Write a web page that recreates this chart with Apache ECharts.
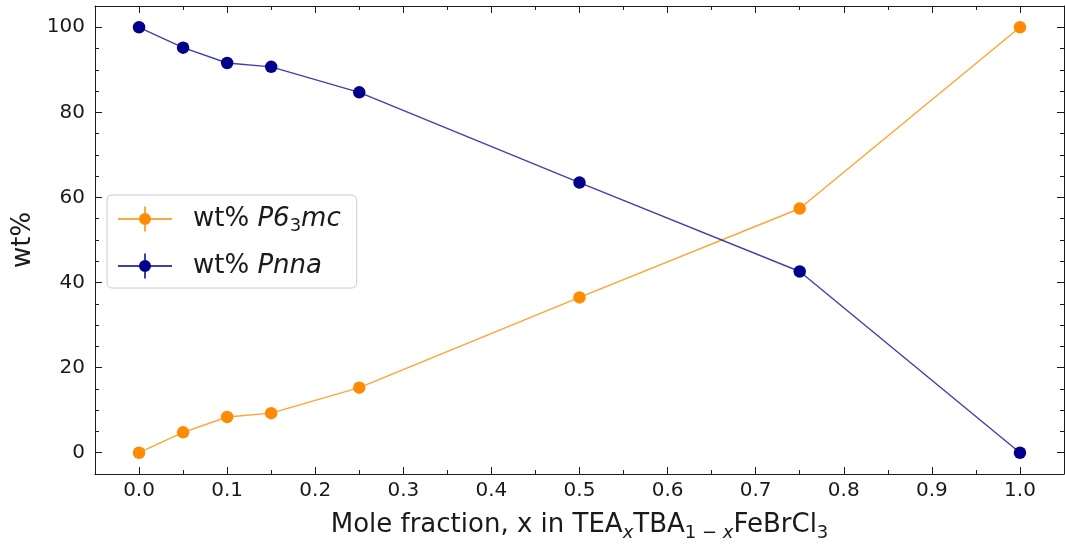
<!DOCTYPE html>
<html>
<head>
<meta charset="utf-8">
<script src="https://cdn.jsdelivr.net/npm/echarts@6/dist/echarts.min.js"></script>
<style>
  html, body { margin: 0; padding: 0; background: #fff; }
  #chart { width: 1065px; height: 547px; }
</style>
</head>
<body>
<div id="chart"></div>
<script>
// Mole fraction x in TEA_x TBA_(1-x) FeBrCl3
const moleFraction = [0, 0.05, 0.1, 0.15, 0.25, 0.5, 0.75, 1.0];
// Phase weight percentages from refinement
const wtP63mc = [0, 4.8, 8.4, 9.3, 15.3, 36.5, 57.4, 100];
const wtPnna = [100, 95.2, 91.6, 90.7, 84.7, 63.5, 42.6, 0];

// Tick positions
const xMajorTicks = [0, 0.1, 0.2, 0.3, 0.4, 0.5, 0.6, 0.7, 0.8, 0.9, 1.0];
const xMinorTicks = [0.05, 0.15, 0.25, 0.35, 0.45, 0.55, 0.65, 0.75, 0.85, 0.95];
const yMajorTicks = [0, 20, 40, 60, 80, 100];
const yMinorTicks = [5, 10, 15, 25, 30, 35, 45, 50, 55, 65, 70, 75, 85, 90, 95];

const FONT = 'DejaVu Sans';
const INK = '#1a1a1a';
const ORANGE = '#ff8c00';
const NAVY = '#00008b';

// Legend marker: line with a round marker and a vertical error bar
const errIcon = 'path://M0,11.75H54V13.25H0Z M26.25,0H27.75V25H26.25Z M33,12.5A6,6 0 1 1 21,12.5A6,6 0 1 1 33,12.5Z';

function xAxisDef(position, ticks, isMajor, showLabel) {
  return {
    type: 'value', position: position, min: -0.05, max: 1.05,
    axisLine: { show: isMajor, onZero: false, lineStyle: { color: INK, width: 1 } },
    axisTick: { show: true, inside: true, length: isMajor ? 7 : 4, customValues: ticks,
                lineStyle: { color: INK, width: 1 } },
    axisLabel: showLabel ? {
      show: true, customValues: ticks, margin: 7, color: INK, fontFamily: FONT, fontSize: 20,
      formatter: v => v.toFixed(1)
    } : { show: false },
    splitLine: { show: false }
  };
}
function yAxisDef(position, ticks, isMajor, showLabel) {
  return {
    type: 'value', position: position, min: -5, max: 105,
    axisLine: { show: isMajor, onZero: false, lineStyle: { color: INK, width: 1 } },
    axisTick: { show: true, inside: true, length: isMajor ? 7 : 4, customValues: ticks,
                lineStyle: { color: INK, width: 1 } },
    axisLabel: showLabel ? {
      show: true, customValues: ticks, margin: 10, color: INK, fontFamily: FONT, fontSize: 20,
      formatter: v => String(Math.round(v))
    } : { show: false },
    splitLine: { show: false }
  };
}

const xMain = xAxisDef('bottom', xMajorTicks, true, true);
xMain.name = '{n|Mole fraction, x in TEA}{si|x}{n|TBA}{s|1 − }{si|x}{n|FeBrCl}{s|3}';
xMain.nameLocation = 'middle';
xMain.nameGap = 35;
xMain.nameTextStyle = {
  color: INK, fontFamily: FONT, fontSize: 26,
  rich: {
    n: { fontFamily: FONT, fontSize: 26, color: INK },
    s: { fontFamily: FONT, fontSize: 18, color: INK, padding: [15, 0, 0, 0] },
    si: { fontFamily: FONT, fontSize: 18, color: INK, fontStyle: 'italic', padding: [15, 0, 0, 0] }
  }
};

const yMain = yAxisDef('left', yMajorTicks, true, true);
yMain.name = 'wt%';
yMain.nameLocation = 'middle';
yMain.nameGap = 58;
yMain.nameRotate = 90;
yMain.nameTextStyle = { color: INK, fontFamily: FONT, fontSize: 26 };

const chart = echarts.init(document.getElementById('chart'), null, { renderer: 'canvas' });
chart.setOption({
  animation: false,
  backgroundColor: '#ffffff',
  grid: { left: 95, right: 1, top: 6, bottom: 68, containLabel: false },
  xAxis: [
    xMain,
    xAxisDef('bottom', xMinorTicks, false, false),
    xAxisDef('top', xMajorTicks, true, false),
    xAxisDef('top', xMinorTicks, false, false)
  ],
  yAxis: [
    yMain,
    yAxisDef('left', yMinorTicks, false, false),
    yAxisDef('right', yMajorTicks, true, false),
    yAxisDef('right', yMinorTicks, false, false)
  ],
  legend: {
    orient: 'vertical', left: 107, top: 195,
    padding: [11, 16, 9, 11],
    itemWidth: 54, itemHeight: 25, itemGap: 18,
    backgroundColor: 'rgba(255,255,255,0.8)',
    borderColor: '#cccccc', borderWidth: 1, borderRadius: 5,
    data: [
      { name: 'wt% P63mc', icon: errIcon },
      { name: 'wt% Pnna', icon: errIcon }
    ],
    formatter: function (name) {
      if (name === 'wt% P63mc') return '{n|wt% }{i|P6}{s|3}{i|mc}';
      return '{n|wt% }{i|Pnna}';
    },
    textStyle: {
      color: INK, fontFamily: FONT, fontSize: 26, padding: [0, 0, 0, 16],
      rich: {
        n: { fontFamily: FONT, fontSize: 26, color: INK },
        i: { fontFamily: FONT, fontSize: 26, color: INK, fontStyle: 'italic' },
        s: { fontFamily: FONT, fontSize: 18, color: INK, padding: [14, 0, 0, 0] }
      }
    }
  },
  series: [
    {
      name: 'wt% P63mc', type: 'line', xAxisIndex: 0, yAxisIndex: 0,
      data: moleFraction.map((x, i) => [x, wtP63mc[i]]),
      symbol: 'circle', symbolSize: 12.5,
      itemStyle: { color: ORANGE },
      lineStyle: { color: ORANGE, width: 1.4, opacity: 0.8 }
    },
    {
      name: 'wt% Pnna', type: 'line', xAxisIndex: 0, yAxisIndex: 0,
      data: moleFraction.map((x, i) => [x, wtPnna[i]]),
      symbol: 'circle', symbolSize: 12.5,
      itemStyle: { color: NAVY },
      lineStyle: { color: NAVY, width: 1.4, opacity: 0.75 }
    }
  ]
});
</script>
</body>
</html>
